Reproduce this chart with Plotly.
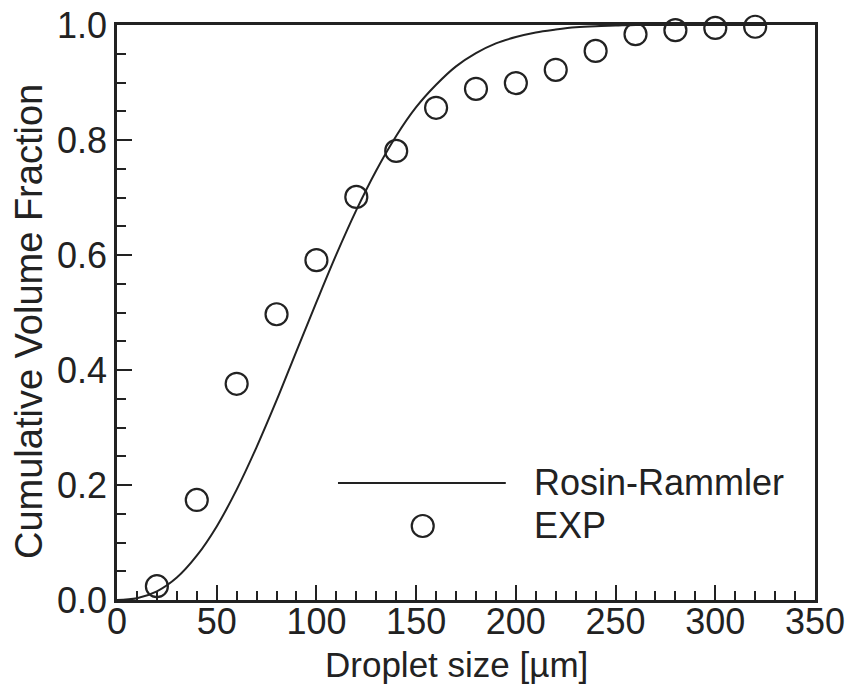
import plotly.graph_objects as go

exp_size = [20, 40, 60, 80, 100, 120, 140, 160, 180, 200, 220, 240, 260, 280, 300, 320]
exp_frac = [0.024, 0.174, 0.376, 0.497, 0.591, 0.701, 0.781, 0.856, 0.889, 0.899,
            0.922, 0.955, 0.984, 0.991, 0.995, 0.997]

# Rosin-Rammler curve
rr_size = [0, 10, 20, 30, 40, 50, 60, 70, 80, 90, 100, 110, 120, 130, 140, 150, 160,
           170, 180, 190, 200, 210, 220, 230, 240, 250, 260, 280, 300, 325]
rr_frac = [0.0, 0.003, 0.015, 0.039, 0.077, 0.128, 0.192, 0.266, 0.347, 0.433, 0.518,
           0.601, 0.678, 0.747, 0.807, 0.857, 0.896, 0.928, 0.951, 0.968, 0.979,
           0.987, 0.992, 0.996, 0.998, 0.999, 1.0, 1.0, 1.0, 1.0]

x_ticks = [0, 50, 100, 150, 200, 250, 300, 350]
y_ticks = [0.0, 0.2, 0.4, 0.6, 0.8, 1.0]
y_ticklabels = ["0.0", "0.2", "0.4", "0.6", "0.8", "1.0"]

INK = "#222222"
FONT = "Liberation Sans, Arial, sans-serif"

fig = go.Figure()
fig.add_trace(go.Scatter(x=rr_size, y=rr_frac, mode="lines", line=dict(color=INK, width=2, shape="spline"),
                         name="Rosin-Rammler", showlegend=False, cliponaxis=False))
fig.add_trace(go.Scatter(x=exp_size, y=exp_frac, mode="markers",
                         marker=dict(symbol="circle-open", size=22, color=INK, line=dict(width=2.2, color=INK)),
                         name="EXP", showlegend=False, cliponaxis=False))

# manual legend
fig.add_shape(type="line", xref="paper", yref="paper", x0=0.3166, x1=0.557, y0=0.2035, y1=0.2035,
              line=dict(color=INK, width=2))
fig.add_shape(type="circle", xref="paper", yref="paper", xsizemode="pixel", ysizemode="pixel",
              xanchor=0.438, yanchor=0.1287, x0=-11, x1=11, y0=-11, y1=11,
              line=dict(color=INK, width=2.2))
fig.add_annotation(xref="paper", yref="paper", x=0.594, y=0.2035, text="Rosin-Rammler", showarrow=False,
                   xanchor="left", yanchor="middle", font=dict(size=36, color=INK, family=FONT))
fig.add_annotation(xref="paper", yref="paper", x=0.594, y=0.1287, text="EXP", showarrow=False,
                   xanchor="left", yanchor="middle", font=dict(size=36, color=INK, family=FONT))

# axis titles as annotations (exact placement)
fig.add_annotation(xref="paper", yref="paper", x=0.487, y=-0.112, text="Droplet size [µm]", showarrow=False,
                   xanchor="center", yanchor="middle", font=dict(size=35, color=INK, family=FONT))
fig.add_annotation(xref="paper", yref="paper", x=-0.126, y=0.4835, text="Cumulative Volume Fraction",
                   showarrow=False, textangle=-90, xanchor="center", yanchor="middle",
                   font=dict(size=38, color=INK, family=FONT))

axis_common = dict(showgrid=False, zeroline=False, showline=True, mirror=True, linecolor=INK, linewidth=2.5,
                   ticks="inside", tickcolor=INK, tickwidth=2, ticklen=15, automargin=False,
                   tickfont=dict(size=36, color=INK, family=FONT))

fig.update_xaxes(range=[0, 350], tickvals=x_ticks, ticktext=[str(v) for v in x_ticks],
                 ticklabelstandoff=-12,
                 minor=dict(dtick=10, ticks="inside", ticklen=9, tickcolor=INK, tickwidth=1.5),
                 **axis_common)
fig.update_yaxes(range=[0, 1], tickvals=y_ticks, ticktext=y_ticklabels,
                 minor=dict(dtick=0.05, ticks="inside", ticklen=9, tickcolor=INK, tickwidth=1.5),
                 **axis_common)

fig.update_layout(width=847, height=684, margin=dict(l=117, r=32, t=25, b=84),
                  paper_bgcolor="white", plot_bgcolor="white", font=dict(family=FONT, color=INK))

fig.write_html("out.html")
